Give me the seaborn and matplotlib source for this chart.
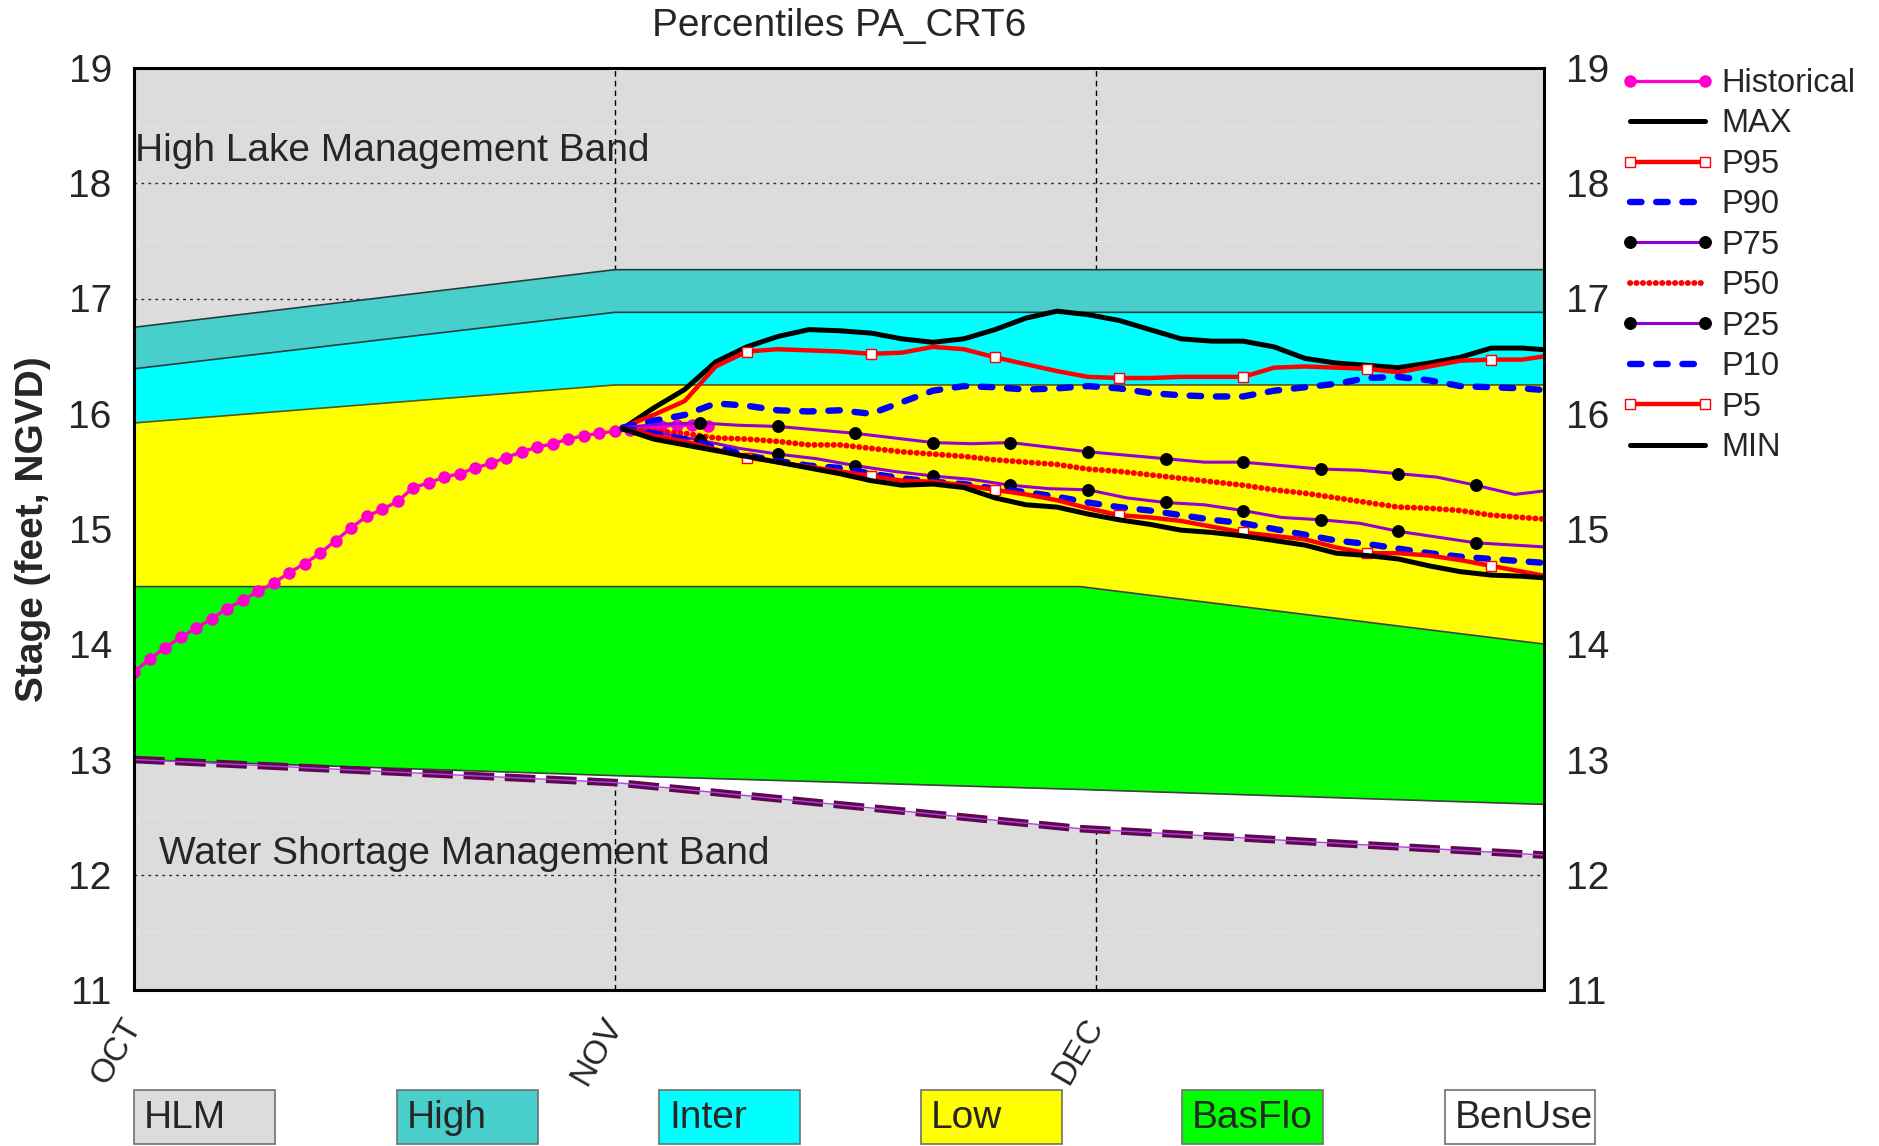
import matplotlib
matplotlib.use("Agg")
import numpy as np
import pandas as pd
import seaborn as sns
import matplotlib.pyplot as plt
from matplotlib.patches import Rectangle

sns.set_style("white")
plt.rcParams["font.family"] = ["Liberation Sans", "DejaVu Sans"]

# --- band limits (stage, ft NGVD) at OCT / NOV / ~DEC / end ---
band_days = [0, 31, 61, 91]
hlm_bottom = [16.75, 17.25, 17.25, 17.25]
high_bottom = [16.39, 16.88, 16.88, 16.88]
inter_bottom = [15.92, 16.25, 16.25, 16.25]
low_bottom = [14.5, 14.5, 14.5, 14.0]
basflo_bottom = [13.0, 12.86, 12.74, 12.61]
wsm_line = [13.0, 12.8, 12.4, 12.17]

band_names = ["HLM", "High", "Inter", "Low", "BasFlo", "BenUse"]
band_colors = ["#DCDCDC", "#48CFCB", "#00FFFF", "#FFFF00", "#00FF00", "#FFFFFF"]

# --- historical stage (daily) ---
hist_days = [0, 1, 2, 3, 4, 5, 6, 7, 8, 9, 10, 11, 12, 13, 14, 15, 16, 17, 18,
             19, 20, 21, 22, 23, 24, 25, 26, 27, 28, 29, 30, 31, 32, 33, 34,
             35, 36, 37]
hist_stage = [13.76, 13.87, 13.97, 14.06, 14.14, 14.22, 14.31, 14.38, 14.46,
              14.53, 14.62, 14.70, 14.79, 14.90, 15.01, 15.11, 15.17, 15.24,
              15.36, 15.40, 15.45, 15.48, 15.53, 15.57, 15.62, 15.67, 15.71,
              15.74, 15.78, 15.81, 15.83, 15.85, 15.86, 15.87, 15.89, 15.90,
              15.90, 15.89]

# --- percentile traces ---
pct_days = [31.5, 33.5, 35.5, 37.5, 39.5, 41.5, 43.5, 45.5, 47.5, 49.5, 51.5,
            53.5, 55.5, 57.5, 59.5, 61.5, 63.5, 65.5, 67.5, 69.5, 71.5, 73.5,
            75.5, 77.5, 79.5, 81.5, 83.5, 85.5, 87.5, 89.5, 91.5]
p_max = [15.87, 16.05, 16.21, 16.45, 16.58, 16.67, 16.73, 16.72, 16.70, 16.65,
         16.62, 16.65, 16.73, 16.83, 16.89, 16.86, 16.81, 16.73, 16.65, 16.63,
         16.63, 16.58, 16.48, 16.44, 16.42, 16.40, 16.44, 16.49, 16.57, 16.57,
         16.55]
p95 = [15.88, 15.99, 16.11, 16.41, 16.54, 16.56, 16.55, 16.54, 16.52, 16.53,
       16.58, 16.56, 16.49, 16.43, 16.37, 16.32, 16.31, 16.31, 16.32, 16.32,
       16.32, 16.40, 16.41, 16.40, 16.39, 16.36, 16.41, 16.46, 16.47, 16.47,
       16.51]
p90 = [15.88, 15.94, 15.99, 16.09, 16.07, 16.03, 16.02, 16.03, 16.00, 16.10,
       16.20, 16.24, 16.23, 16.21, 16.22, 16.24, 16.22, 16.18, 16.16, 16.15,
       16.15, 16.20, 16.23, 16.26, 16.31, 16.32, 16.29, 16.24, 16.23, 16.22,
       16.20]
p50 = [15.87, 15.85, 15.83, 15.79, 15.78, 15.76, 15.73, 15.73, 15.70, 15.67,
       15.65, 15.63, 15.60, 15.58, 15.56, 15.52, 15.50, 15.47, 15.44, 15.41,
       15.38, 15.34, 15.31, 15.27, 15.23, 15.19, 15.18, 15.16, 15.12, 15.10,
       15.08]
p10 = [15.87, 15.83, 15.78, 15.71, 15.64, 15.59, 15.55, 15.53, 15.48, 15.44,
       15.41, 15.39, 15.35, 15.32, 15.28, 15.23, 15.19, 15.16, 15.12, 15.08,
       15.05, 15.00, 14.95, 14.90, 14.87, 14.83, 14.79, 14.76, 14.74, 14.72,
       14.70]
p5 = [15.87, 15.81, 15.76, 15.69, 15.62, 15.58, 15.54, 15.50, 15.46, 15.42,
      15.41, 15.38, 15.34, 15.30, 15.25, 15.18, 15.12, 15.10, 15.07, 15.02,
      14.97, 14.94, 14.91, 14.84, 14.79, 14.79, 14.77, 14.73, 14.68, 14.63,
      14.58]
p_min = [15.87, 15.78, 15.73, 15.68, 15.63, 15.58, 15.53, 15.48, 15.42, 15.38,
         15.39, 15.36, 15.27, 15.21, 15.19, 15.13, 15.08, 15.04, 14.99, 14.97,
         14.94, 14.90, 14.86, 14.79, 14.77, 14.74, 14.68, 14.63, 14.60, 14.59,
         14.57]

quart_days = [31.5, 34, 36.5, 39, 41.5, 44, 46.5, 49, 51.5, 54, 56.5, 59, 61.5,
              64, 66.5, 69, 71.5, 74, 76.5, 79, 81.5, 84, 86.5, 89, 91.5]
p75 = [15.88, 15.91, 15.92, 15.90, 15.89, 15.86, 15.83, 15.79, 15.75, 15.74,
       15.75, 15.71, 15.67, 15.64, 15.61, 15.58, 15.58, 15.55, 15.52, 15.51,
       15.48, 15.45, 15.38, 15.30, 15.34]
p25 = [15.87, 15.83, 15.77, 15.70, 15.65, 15.61, 15.55, 15.50, 15.46, 15.43,
       15.38, 15.35, 15.34, 15.27, 15.23, 15.21, 15.16, 15.10, 15.08, 15.05,
       14.98, 14.93, 14.88, 14.86, 14.84]

month_ticks = [0, 31, 62]
month_labels = ["OCT", "NOV", "DEC"]


fig = plt.figure(figsize=(18.79, 11.46), dpi=100)
ax = fig.add_axes([134 / 1879, 1 - 990 / 1146, 1410 / 1879, 922 / 1146])

ax.set_facecolor(band_colors[0])
ax.fill_between(band_days, high_bottom, hlm_bottom, color=band_colors[1], lw=0, zorder=1)
ax.fill_between(band_days, inter_bottom, high_bottom, color=band_colors[2], lw=0, zorder=1)
ax.fill_between(band_days, low_bottom, inter_bottom, color=band_colors[3], lw=0, zorder=1)
ax.fill_between(band_days, basflo_bottom, low_bottom, color=band_colors[4], lw=0, zorder=1)
ax.fill_between(band_days, wsm_line, basflo_bottom, color=band_colors[5], lw=0, zorder=1)

for edge, col in [(hlm_bottom, "#1F3F3F"), (high_bottom, "#1F3F3F"),
                  (inter_bottom, "#5A5A00"), (low_bottom, "#404040"),
                  (basflo_bottom, "#404040")]:
    ax.plot(band_days, edge, color=col, lw=1.2, zorder=1.2)

# water shortage line
ax.plot(band_days, wsm_line, color="#5E0850", lw=5.5,
        linestyle=(0, (4, 1.4)), zorder=1.6)
ax.plot(band_days, wsm_line, color="#B040E0", lw=1, zorder=1.7)

ax.text(0.05, 18.28, "High Lake Management Band", fontsize=28,
        va="center", ha="left", zorder=5)
ax.text(1.6, 12.18, "Water Shortage Management Band", fontsize=28,
        va="center", ha="left", zorder=5)

# historical
sns.lineplot(x=hist_days, y=hist_stage, ax=ax, color="#FF00CC", lw=2.4,
             marker="o", markersize=9, markeredgewidth=0, sort=False,
             label="Historical", zorder=2.5)

sns.lineplot(x=pct_days, y=p_max, ax=ax, color="black", lw=3.6, sort=False,
             label="MAX", zorder=3)
sns.lineplot(x=pct_days, y=p95, ax=ax, color="#FF0000", lw=3.2, sort=False,
             marker="s", markersize=7, markerfacecolor="white",
             markeredgecolor="#FF0000", markeredgewidth=1,
             markevery=slice(4, None, 4), label="P95", zorder=3)
sns.lineplot(x=pct_days, y=p90, ax=ax, color="#0000FF", lw=4.6, sort=False,
             linestyle=(0, (1.8, 2.3)), dash_capstyle="round",
             label="P90", zorder=3)
sns.lineplot(x=quart_days, y=p75, ax=ax, color="#9400D3", lw=2.2, sort=False,
             marker="o", markersize=8.5, markerfacecolor="black",
             markeredgecolor="black", markevery=slice(2, None, 2),
             label="P75", zorder=3)
sns.lineplot(x=pct_days, y=p50, ax=ax, color="#FF0000", lw=4.2, sort=False,
             linestyle=(0, (0.05, 1.05)), dash_capstyle="round",
             label="P50", zorder=3)
sns.lineplot(x=quart_days, y=p25, ax=ax, color="#9400D3", lw=2.2, sort=False,
             marker="o", markersize=8.5, markerfacecolor="black",
             markeredgecolor="black", markevery=slice(2, None, 2),
             label="P25", zorder=3)
sns.lineplot(x=pct_days, y=p10, ax=ax, color="#0000FF", lw=4.6, sort=False,
             linestyle=(0, (1.8, 2.3)), dash_capstyle="round",
             label="P10", zorder=3)
sns.lineplot(x=pct_days, y=p5, ax=ax, color="#FF0000", lw=3.2, sort=False,
             marker="s", markersize=7, markerfacecolor="white",
             markeredgecolor="#FF0000", markeredgewidth=1,
             markevery=slice(4, None, 4), label="P5", zorder=3)
sns.lineplot(x=pct_days, y=p_min, ax=ax, color="black", lw=3.6, sort=False,
             label="MIN", zorder=3)

ax.set_xlim(0, 90.9)
ax.set_ylim(11, 19)
ax.set_yticks(range(11, 20))
ax.set_yticks(np.arange(11.5, 19, 1), minor=True)
ax.set_xticks(month_ticks)
ax.set_xticklabels(month_labels, rotation=60, ha="right", va="center",
                   rotation_mode="anchor", fontsize=24)

ax.grid(axis="y", which="major", color="#303030", linestyle=(0, (2, 3)), lw=1)
ax.grid(axis="y", which="minor", color="#E6E6E6", linestyle=(0, (4, 3)), lw=1)
ax.grid(axis="x", which="major", color="black", linestyle=(0, (4, 3)), lw=1)

ax.tick_params(axis="y", which="both", length=0, labelsize=28, pad=16,
               labelright=True, right=False)
ax.tick_params(axis="x", length=0, pad=22)

for sp in ax.spines.values():
    sp.set_color("black")
    sp.set_linewidth(2.2)
    sp.set_zorder(10)

ax.set_xlabel("")
ax.set_ylabel("Stage (feet, NGVD)", fontsize=28, fontweight="bold")
ax.yaxis.set_label_coords(-0.059, 0.5)
fig.text(839 / 1879, 1 - 26 / 1146, "Percentiles PA_CRT6", fontsize=28,
         ha="center", va="center")

ax.legend(loc="upper left", bbox_to_anchor=(1620 / 1879, 1 - 68 / 1146),
          bbox_transform=fig.transFigure, frameon=False, fontsize=23.5,
          numpoints=2, handlelength=2.9, handletextpad=0.2,
          labelspacing=0.29, borderpad=0, borderaxespad=0)

# band colour key along the bottom
box_left = [134, 397, 659, 921, 1182, 1445]
box_width = [141, 141, 141, 141, 141, 150]
for name, col, x0, w in zip(band_names, band_colors, box_left, box_width):
    fig.add_artist(Rectangle((x0 / 1879, 2 / 1146), w / 1879, 54 / 1146,
                             transform=fig.transFigure, facecolor=col,
                             edgecolor="#707070", lw=1.2))
    fig.text((x0 + 10) / 1879, 28 / 1146, name, fontsize=28,
             ha="left", va="center")

fig.savefig("out.png", dpi=100)
